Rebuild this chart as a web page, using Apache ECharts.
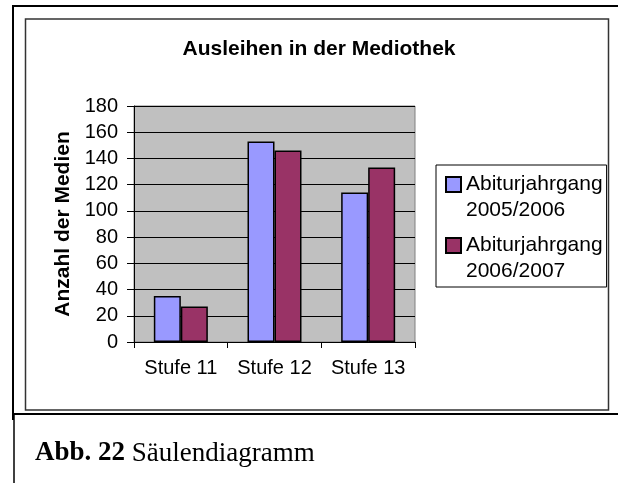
<!doctype html>
<html>
  <head>
    <meta charset="utf-8">
    <title>Ausleihen in der Mediothek</title>
    <script src="https://cdn.jsdelivr.net/npm/echarts@6/dist/echarts.min.js"></script>
    <style>
      html, body { margin: 0; padding: 0; background: #fff; }
    </style>
  </head>
  <body>
    <div id="main" style="width:618px;height:483px;"></div>
  </body>
  <script>
   // Daten
   var stufen = ['Stufe 11', 'Stufe 12', 'Stufe 13'];
   var jahrgang0506 = [35, 153, 114];
   var jahrgang0607 = [27, 146, 133];
   var serienNamen = ['Abiturjahrgang 2005/2006', 'Abiturjahrgang 2006/2007'];
   var yTicks = { min: 0, max: 180, interval: 20 };

   var chart = echarts.init(document.getElementById('main'));
   var sans = '"Liberation Sans", Arial, sans-serif';
   // Quadrat oben im 15x52-Feld, damit es neben der ersten Textzeile steht
   var legendIcon = 'path://M0,0M0,6L15,6L15,21L0,21ZM0,52';

   var option = {
     backgroundColor: '#fff',
     animation: false,
     title: {
       text: 'Ausleihen in der Mediothek',
       left: 314,
       textAlign: 'center',
       top: 34,
       textStyle: { fontFamily: sans, fontSize: 21, fontWeight: 'bold', color: '#000' }
     },
     legend: {
       orient: 'vertical',
       left: 436,
       top: 165,
       padding: [5, 4, 2, 9],
       borderColor: '#000',
       borderWidth: 1,
       icon: legendIcon,
       itemWidth: 15,
       itemHeight: 52,
       itemGap: 7,
       data: serienNamen,
       formatter: function (name) { return name.replace(' ', '\n'); },
       textStyle: { fontFamily: sans, fontSize: 21, color: '#000', lineHeight: 26 }
     },
     grid: {
       left: 134,
       top: 106,
       width: 281,
       height: 236,
       show: true,
       backgroundColor: '#c0c0c0',
       borderColor: '#808080',
       borderWidth: 1
     },
     xAxis: {
       type: 'category',
       data: stufen,
       axisLine: { lineStyle: { color: '#000', width: 1 } },
       axisTick: { show: true, length: 6, lineStyle: { color: '#000' } },
       axisLabel: { fontFamily: sans, fontSize: 20, color: '#000', margin: 16, interval: 0, hideOverlap: false }
     },
     yAxis: {
       type: 'value',
       min: yTicks.min,
       max: yTicks.max,
       interval: yTicks.interval,
       name: 'Anzahl der Medien',
       nameLocation: 'middle',
       nameRotate: 90,
       nameGap: 60,
       nameTextStyle: { fontFamily: sans, fontSize: 21, fontWeight: 'bold', color: '#000' },
       axisLine: { show: true, lineStyle: { color: '#000', width: 1 } },
       axisTick: { show: true, length: 7, lineStyle: { color: '#000' } },
       axisLabel: { fontFamily: sans, fontSize: 20, color: '#000', margin: 16 },
       splitLine: { show: true, lineStyle: { color: '#000', width: 1 } }
     },
     series: [
       {
         name: serienNamen[0],
         type: 'bar',
         data: jahrgang0506,
         barWidth: 27,
         barGap: '0%',
         itemStyle: { color: '#9999ff', borderColor: '#000', borderWidth: 1.5 }
       },
       {
         name: serienNamen[1],
         type: 'bar',
         data: jahrgang0607,
         barWidth: 27,
         barGap: '0%',
         itemStyle: { color: '#993366', borderColor: '#000', borderWidth: 1.5 }
       }
     ],
     graphic: [
       // äußerer Rahmen
       { type: 'polyline', shape: { points: [[13, 420], [13, 6], [630, 6]] },
         style: { stroke: '#000', lineWidth: 2, fill: null } },
       // innerer Rahmen um das Diagramm
       { type: 'rect', shape: { x: 25.5, y: 19, width: 583, height: 391 },
         style: { stroke: '#333', lineWidth: 1.5, fill: null } },
       // Trennlinie und Kasten der Bildunterschrift
       { type: 'polyline', shape: { points: [[13, 414], [630, 414]] },
         style: { stroke: '#000', lineWidth: 2, fill: null } },
       { type: 'polyline', shape: { points: [[14, 414], [14, 490]] },
         style: { stroke: '#000', lineWidth: 1.5, fill: null } },
       { type: 'text', left: 35, top: 440,
         style: { text: '{b|Abb. 22} Säulendiagramm', fill: '#000',
           font: '27px "Liberation Serif", "Times New Roman", serif',
           rich: { b: { fontWeight: 'bold', fontSize: 27, fontFamily: '"Liberation Serif", serif' } } } }
     ]
   };

   chart.setOption(option);
  </script>
</html>
